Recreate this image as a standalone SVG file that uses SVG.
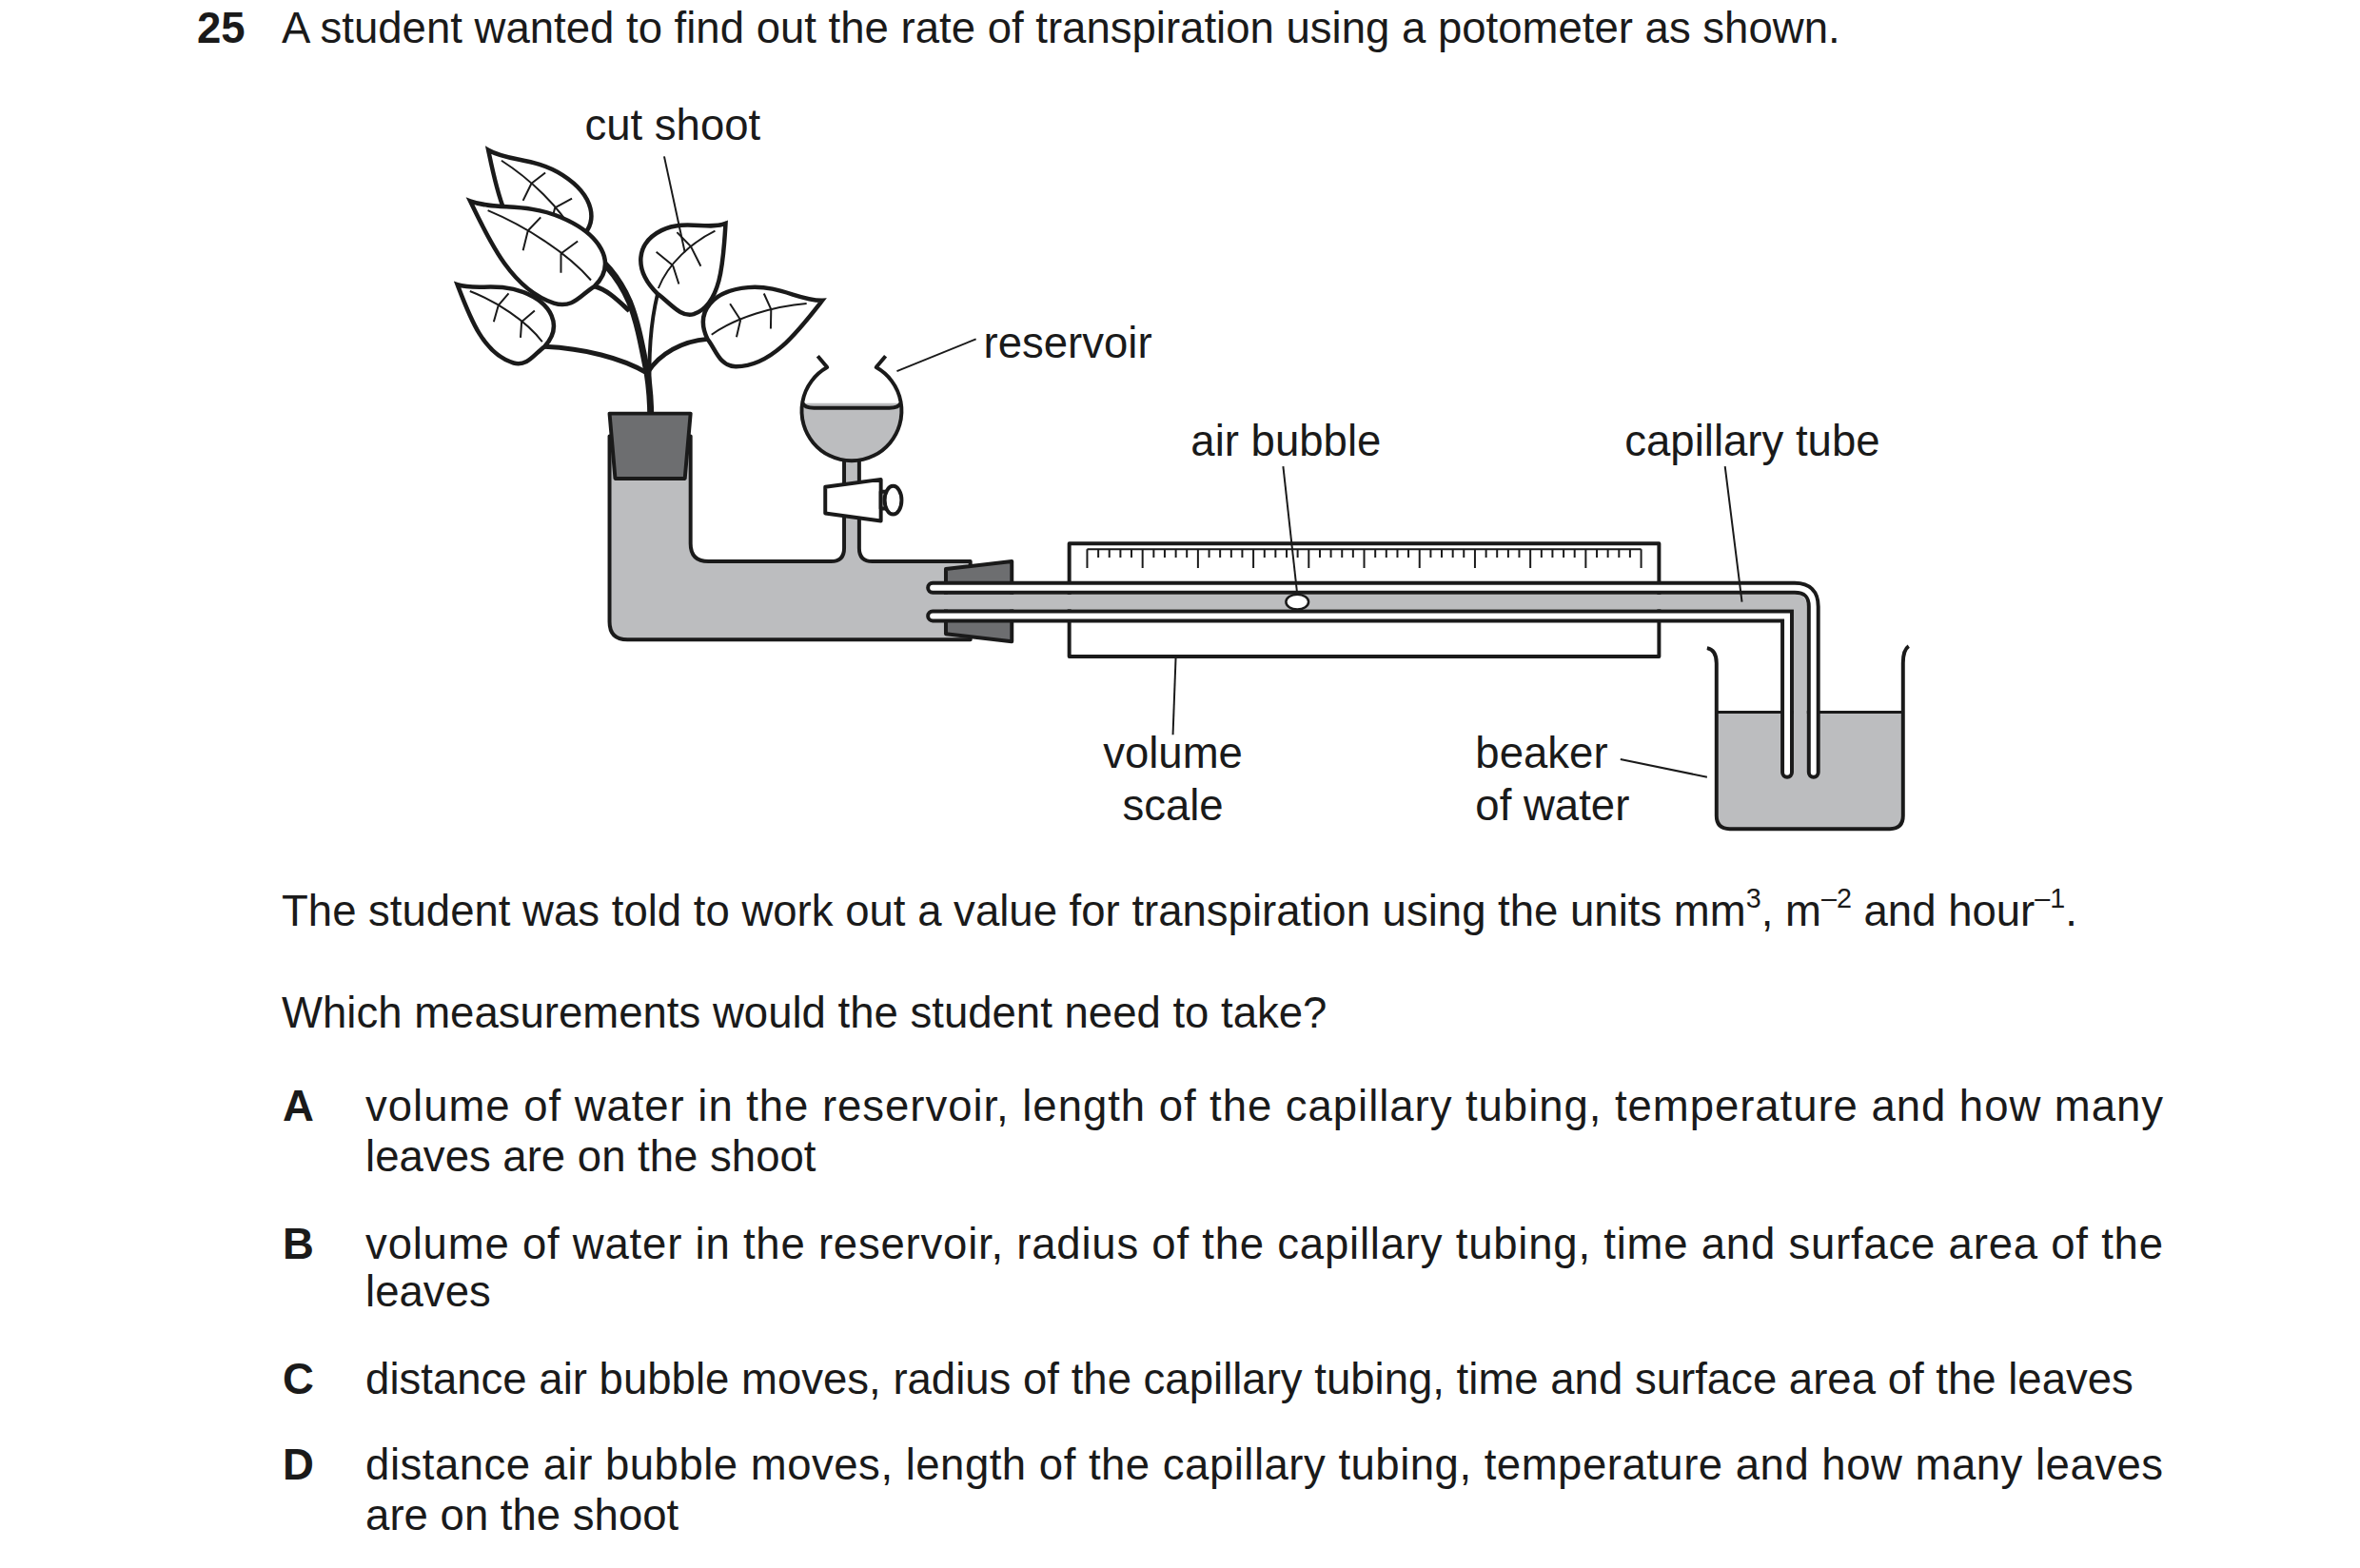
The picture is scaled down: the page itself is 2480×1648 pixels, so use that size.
<svg xmlns="http://www.w3.org/2000/svg" width="2480" height="1648" viewBox="0 0 2480 1648">
<style>
text{font-family:"Liberation Sans",Arial,sans-serif;font-size:46px;fill:#1a1a1a}
.b{font-weight:bold}
.ln{stroke:#1a1a1a;stroke-width:2;fill:none}
.o{stroke:#1a1a1a;stroke-width:4;stroke-linejoin:round}
.leaf{fill:#fff;stroke:#1a1a1a;stroke-width:4.5}
.vein{fill:none;stroke:#1a1a1a;stroke-width:2}
.wall{fill:none;stroke:#1a1a1a;stroke-width:14;stroke-linecap:round}
.wall2{fill:none;stroke:#fff;stroke-width:6;stroke-linecap:round}
</style>
<defs>
<g id="leafshape">
<path class="leaf" vector-effect="non-scaling-stroke" d="M0,0 C-10,-34 20,-52 62,-48 C102,-44 122,-22 150,-18 C114,10 72,44 28,36 C8,32 8,14 0,0 Z"/>
<path class="vein" vector-effect="non-scaling-stroke" d="M6,-4 C40,-18 90,-22 130,-18 M45,-14 L36,-34 M45,-14 L36,4 M85,-19 L80,-38 M85,-19 L80,2"/>
</g>
</defs>
<g transform="scale(0.99)">
<text x="209" y="45" class="b">25</text>
<text x="299" y="45">A student wanted to find out the rate of transpiration using a potometer as shown.</text>

<g id="plant">
<path d="M684,535 C690,480 694,440 687,396 C680,360 676,340 668,320 C655,290 635,270 612,256" fill="none" stroke="#1a1a1a" stroke-width="7" stroke-linecap="round"/>
<path d="M687,396 C660,380 620,370 578,368" fill="none" stroke="#1a1a1a" stroke-width="5"/>
<path d="M687,396 C700,375 725,362 751,360" fill="none" stroke="#1a1a1a" stroke-width="5"/>
<path d="M690,420 C688,380 690,345 698,312" fill="none" stroke="#1a1a1a" stroke-width="4"/>
<path d="M668,330 C655,318 645,308 631,304" fill="none" stroke="#1a1a1a" stroke-width="5"/>
<use href="#leafshape" transform="translate(612,256) rotate(218.6) scale(0.89,-0.95)"/>
<use href="#leafshape" transform="translate(631,304) rotate(208) scale(1.06,-1)"/>
<use href="#leafshape" transform="translate(578,368) rotate(207.7) scale(0.75,-0.85)"/>
<use href="#leafshape" transform="translate(698,312) rotate(-35) scale(0.68,1.1)"/>
<use href="#leafshape" transform="translate(751,360) rotate(-11) scale(0.85,0.95)"/>
</g>

<g id="vessel">
<path class="o" fill="#bcbdbf" d="M647,463 V660 Q647,679 666,679 H1030 V596 H926 Q912,596 912,582 V487 H896 V582 Q896,596 882,596 H752 Q733,596 733,577 V463 Z"/>
<polygon class="o" fill="#6d6e70" points="647,439 733,439 727,508 653,508"/>
<polygon class="o" fill="#6d6e70" points="1004,604 1074,596 1074,681 1004,673"/>
</g>

<g id="reservoir">
<path fill="#bcbdbf" d="M851.5,428 A53,53 0 1 0 956.5,428 Z"/>
<path class="o" fill="none" d="M852,428 Q854,433 864,433 H944 Q954,433 956,428"/>
<path class="o" fill="none" d="M868,378 L878,390 A53,53 0 1 0 930,390 L940,378"/>
<polygon class="o" fill="#fff" points="876,517 935,509 935,553 876,545"/>
<rect x="935" y="522" width="6" height="18" fill="#fff" class="o" stroke-width="3"/>
<ellipse cx="948" cy="531" rx="9" ry="15" fill="#fff" class="o"/>
</g>

<g id="scale">
<rect x="1135" y="577" width="626" height="120" fill="#fff" class="o" stroke-width="3.5"/>
<line x1="1154" y1="583" x2="1742" y2="583" stroke="#1a1a1a" stroke-width="2"/>
<path stroke="#1a1a1a" stroke-width="2" d="M1154,583v20M1165.8,583v9M1177.5,583v9M1189.3,583v9M1201,583v9M1212.8,583v20M1224.6,583v9M1236.3,583v9M1248.1,583v9M1259.8,583v9M1271.6,583v20M1283.4,583v9M1295.1,583v9M1306.9,583v9M1318.6,583v9M1330.4,583v20M1342.2,583v9M1353.9,583v9M1365.7,583v9M1377.4,583v9M1389.2,583v20M1401,583v9M1412.7,583v9M1424.5,583v9M1436.2,583v9M1448,583v20M1459.8,583v9M1471.5,583v9M1483.3,583v9M1495,583v9M1506.8,583v20M1518.6,583v9M1530.3,583v9M1542.1,583v9M1553.8,583v9M1565.6,583v20M1577.4,583v9M1589.1,583v9M1600.9,583v9M1612.6,583v9M1624.4,583v20M1636.2,583v9M1647.9,583v9M1659.7,583v9M1671.4,583v9M1683.2,583v20M1695,583v9M1706.7,583v9M1718.5,583v9M1730.2,583v9M1742,583v20"/>
</g>

<g id="beaker">
<path fill="#bcbdbf" d="M1822,756 H2020 V866 Q2020,880 2006,880 H1836 Q1822,880 1822,866 Z"/>
<line x1="1822" y1="756" x2="2020" y2="756" stroke="#1a1a1a" stroke-width="3"/>
<path class="o" fill="none" d="M1812,688 Q1822,690 1822,704 V866 Q1822,880 1836,880 H2006 Q2020,880 2020,866 V704 Q2020,690 2026,686"/>
</g>

<g id="capillary">
<path fill="#bcbdbf" d="M988,631 H1905 Q1918,631 1918,644 V822 H1904 V647 H988 Z"/>
<path class="wall" d="M990,624 H1905 Q1925,624 1925,644 V820"/>
<path class="wall2" d="M990,624 H1905 Q1925,624 1925,644 V820"/>
<path class="wall" d="M990,654 H1897 V820"/>
<path class="wall2" d="M990,654 H1897 V820"/>
<ellipse cx="1377" cy="639" rx="12" ry="8" fill="#fff" stroke="#1a1a1a" stroke-width="2.5"/>
</g>

<g id="connectors">
<line class="ln" x1="705" y1="166" x2="727" y2="268"/>
<line class="ln" x1="1036" y1="360" x2="952" y2="394"/>
<line class="ln" x1="1362" y1="495" x2="1377" y2="631"/>
<line class="ln" x1="1831" y1="495" x2="1849" y2="639"/>
<line class="ln" x1="1248" y1="699" x2="1245" y2="780"/>
<line class="ln" x1="1720" y1="806" x2="1812" y2="825"/>
</g>

<g id="labels">
<text x="714" y="148" text-anchor="middle">cut shoot</text>
<text x="1044" y="380">reservoir</text>
<text x="1365" y="484" text-anchor="middle">air bubble</text>
<text x="1860" y="484" text-anchor="middle">capillary tube</text>
<text x="1245" y="815" text-anchor="middle">volume</text>
<text x="1245" y="871" text-anchor="middle">scale</text>
<text x="1566" y="815">beaker</text>
<text x="1566" y="871">of water</text>
</g>

<text x="299" y="983">The student was told to work out a value for transpiration using the units mm<tspan font-size="29" dy="-19">3</tspan><tspan dy="19">, m</tspan><tspan font-size="29" dy="-19">–2</tspan><tspan dy="19"> and hour</tspan><tspan font-size="29" dy="-19">–1</tspan><tspan dy="19">.</tspan></text>
<text x="299" y="1091">Which measurements would the student need to take?</text>
<text x="300" y="1190" class="b">A</text>
<text x="388" y="1190" textLength="1908" lengthAdjust="spacing">volume of water in the reservoir, length of the capillary tubing, temperature and how many</text>
<text x="388" y="1243">leaves are on the shoot</text>
<text x="300" y="1336" class="b">B</text>
<text x="388" y="1336" textLength="1908" lengthAdjust="spacing">volume of water in the reservoir, radius of the capillary tubing, time and surface area of the</text>
<text x="388" y="1387">leaves</text>
<text x="300" y="1480" class="b">C</text>
<text x="388" y="1480">distance air bubble moves, radius of the capillary tubing, time and surface area of the leaves</text>
<text x="300" y="1571" class="b">D</text>
<text x="388" y="1571" textLength="1908" lengthAdjust="spacing">distance air bubble moves, length of the capillary tubing, temperature and how many leaves</text>
<text x="388" y="1624">are on the shoot</text>
</g>
</svg>
